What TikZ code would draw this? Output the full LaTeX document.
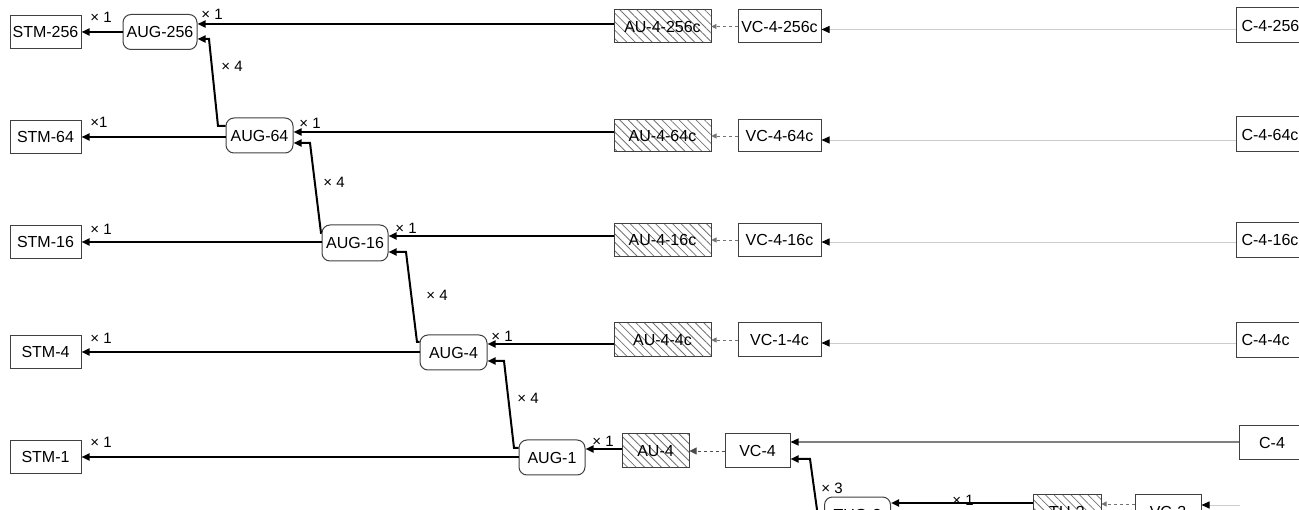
\documentclass[tikz,border=0pt]{standalone}
\usepackage{fontspec}
\setmainfont{Liberation Sans}
\usetikzlibrary{arrows.meta,patterns.meta}
\begin{document}
\begin{tikzpicture}[x=1pt,y=-1pt,
  box/.style={draw=black!75, line width=1pt, fill=white, minimum height=33pt, inner sep=0pt, font=\fontsize{16}{18}\selectfont},
  stm/.style={box, minimum width=71pt},
  aug/.style={draw=black!75, line width=1pt, fill=white, rounded corners=8pt, minimum height=35pt, inner sep=0pt, font=\fontsize{16}{18}\selectfont},
  au/.style={draw=black!75, line width=1pt, pattern={Lines[angle=-45,distance=6pt,line width=0.8pt]}, pattern color=black!55, minimum height=33pt, inner sep=0pt, font=\fontsize{16}{18}\selectfont},
  cbox/.style={box, minimum height=35pt, anchor=west, inner xsep=5pt, text width=75pt, align=left},
  thk/.style={line width=2pt, -{Triangle[length=8pt,width=7pt]}},
  dsh/.style={dashed, draw=black!55, line width=0.7pt, -{Triangle[length=5pt,width=5pt]}},
  dshb/.style={dashed, draw=black!70, line width=0.9pt, -{Triangle[length=7pt,width=7pt]}},
  thin/.style={draw=black!20, line width=0.9pt, -{Triangle[length=8pt,width=7pt,color=black]}},
  mid/.style={draw=black!50, line width=1.2pt, -{Triangle[length=8pt,width=7pt,color=black]}},
  lbl/.style={font=\fontsize{15}{17}\selectfont, inner sep=0pt}
]
\useasboundingbox (0,0) rectangle (1299,510);
\clip (0,0) rectangle (1299,510);

% STM boxes
\node[stm] (STM256) at (45.5,32) {STM-256};
\node[stm] (STM64) at (45.5,137) {STM-64};
\node[stm] (STM16) at (45.5,242) {STM-16};
\node[stm] (STM4) at (45.5,352) {STM-4};
\node[stm] (STM1) at (45.5,457) {STM-1};

% AUG nodes
\node[aug, minimum width=74pt] (AUG256) at (160,32) {AUG-256};
\node[aug, minimum width=67pt] (AUG64) at (259.5,135.5) {AUG-64};
\node[aug, minimum width=66pt, minimum height=36pt] (AUG16) at (355,243) {AUG-16};
\node[aug, minimum width=67pt] (AUG4) at (453.5,352.5) {AUG-4};
\node[aug, minimum width=66pt] (AUG1) at (552,457.5) {AUG-1};

% AU nodes
\node[au, minimum width=97pt] (AU256) at (662.5,26.5) {AU-4-256c};
\node[au, minimum width=97pt, minimum height=32pt] (AU64) at (662.5,136) {AU-4-64c};
\node[au, minimum width=97pt] (AU16) at (662.5,240) {AU-4-16c};
\node[au, minimum width=97pt, minimum height=34pt] (AU4c) at (662.5,340) {AU-4-4c};
\node[au, minimum width=67pt, minimum height=34pt] (AU4) at (655.5,451) {AU-4};

% VC nodes
\node[box, minimum width=83pt] (VC256) at (779.5,26.5) {VC-4-256c};
\node[box, minimum width=83pt, minimum height=32pt] (VC64) at (779.5,136) {VC-4-64c};
\node[box, minimum width=83pt] (VC16) at (779.5,240) {VC-4-16c};
\node[box, minimum width=83pt, minimum height=34pt] (VC4c) at (779.5,340) {VC-1-4c};
\node[box, minimum width=65pt, minimum height=34pt] (VC4) at (757.5,451) {VC-4};

% C nodes
\node[cbox] (C256) at (1236,25.5) {C-4-256c};
\node[cbox] (C64) at (1236,134.5) {C-4-64c};
\node[cbox] (C16) at (1236,240) {C-4-16c};
\node[cbox] (C4c) at (1236,340) {C-4-4c};
\node[box, minimum width=66pt, minimum height=34pt] (C4) at (1272,443) {C-4};

% bottom row (cut off by the picture's lower edge)
\node[aug, minimum width=66pt] (TUG3) at (857.5,514.5) {TUG-3};
\node[au, minimum width=68pt, minimum height=35pt] (TU3) at (1067,512) {TU-3};
\node[box, minimum width=66pt, minimum height=35pt] (VC3) at (1168,512) {VC-3};
\coordinate (C3end) at (1240,505);

% AUG -> STM
\draw[thk] (AUG256.west) -- (STM256.east);
\draw[thk] (AUG64.west |- STM64.east) -- (STM64.east);
\draw[thk] (AUG16.west |- STM16.east) -- (STM16.east);
\draw[thk] (AUG4.west |- STM4.east) -- (STM4.east);
\draw[thk] (AUG1.west |- STM1.east) -- (STM1.east);

% AU -> AUG (x1)
\coordinate (i256) at ([yshift=8pt]AUG256.east);
\coordinate (i64) at ([yshift=3.5pt]AUG64.east);
\coordinate (i16) at ([yshift=7pt]AUG16.east);
\coordinate (i4) at ([yshift=8.5pt]AUG4.east);
\coordinate (i1) at ([yshift=8.5pt]AUG1.east);
\draw[thk] (AU256.west |- i256) -- (i256);
\draw[thk] (AU64.west |- i64) -- (i64);
\draw[thk] (AU16.west |- i16) -- (i16);
\draw[thk] (AU4c.west |- i4) -- (i4);
\draw[thk] (AU4.west |- i1) -- (i1);

% AUG -> AUG (x4)
\draw[thk] ([yshift=9.5pt]AUG64.west) -- (218,126) -- (209,39) -- ([yshift=-7pt]AUG256.east);
\draw[thk] ([yshift=10pt]AUG16.west) -- (321,233) -- (310,143) -- ([yshift=-7.5pt]AUG64.east);
\draw[thk] ([yshift=10.5pt]AUG4.west) -- (417,342) -- (406,252) -- ([yshift=-9pt]AUG16.east);
\draw[thk] ([yshift=9.5pt]AUG1.west) -- (514,448) -- (504,361) -- ([yshift=-8.5pt]AUG4.east);

% TUG-3 -> VC-4 (x3)
\draw[thk] ([yshift=-6pt]TUG3.west) -- (818.5,520.5) -- (810,459) -- ([yshift=-8pt]VC4.east);
% TU-3 -> TUG-3
\coordinate (it3) at ([yshift=11.5pt]TUG3.east);
\draw[thk] (TU3.west |- it3) -- (it3);

% VC -> AU (dashed)
\draw[dsh] (VC256.west) -- (AU256.east);
\draw[dsh] (VC64.west) -- (AU64.east);
\draw[dsh] (VC16.west) -- (AU16.east);
\draw[dsh] (VC4c.west) -- (AU4c.east);
\draw[dshb] (VC4.west) -- (AU4.east);
\draw[dsh] ([yshift=8pt]VC3.west) -- ([yshift=8pt]TU3.east);

% C -> VC
\coordinate (v256) at ([yshift=-3pt]VC256.east);
\coordinate (v64) at ([yshift=-4pt]VC64.east);
\coordinate (v16) at ([yshift=-2pt]VC16.east);
\coordinate (v4c) at ([yshift=-3pt]VC4c.east);
\coordinate (v4) at ([yshift=9pt]VC4.east);
\draw[thin] (C256.west |- v256) -- (v256);
\draw[thin] (C64.west |- v64) -- (v64);
\draw[thin] (C16.west |- v16) -- (v16);
\draw[thin] (C4c.west |- v4c) -- (v4c);
\draw[mid] (C4.west |- v4) -- (v4);
\draw[thin] (C3end) -- (VC3.east |- C3end);

% labels
\node[lbl] (l1) at (101,17) {× 1};
\node[lbl] (l2) at (99,122) {×1};
\node[lbl] (l3) at (101,229) {× 1};
\node[lbl] (l4) at (101,338) {× 1};
\node[lbl] (l5) at (101,442) {× 1};
\node[lbl] (u1) at (212,14) {× 1};
\node[lbl] (u2) at (310,123) {× 1};
\node[lbl] (u3) at (406,228) {× 1};
\node[lbl] (u4) at (502,336) {× 1};
\node[lbl] (u5) at (603,441) {× 1};
\node[lbl] (f1) at (232,66) {× 4};
\node[lbl] (f2) at (334,182) {× 4};
\node[lbl] (f3) at (437,295) {× 4};
\node[lbl] (f4) at (528,398) {× 4};
\node[lbl] (t3) at (832,488) {× 3};
\node[lbl] (b1) at (963,500) {× 1};
\end{tikzpicture}
\end{document}
